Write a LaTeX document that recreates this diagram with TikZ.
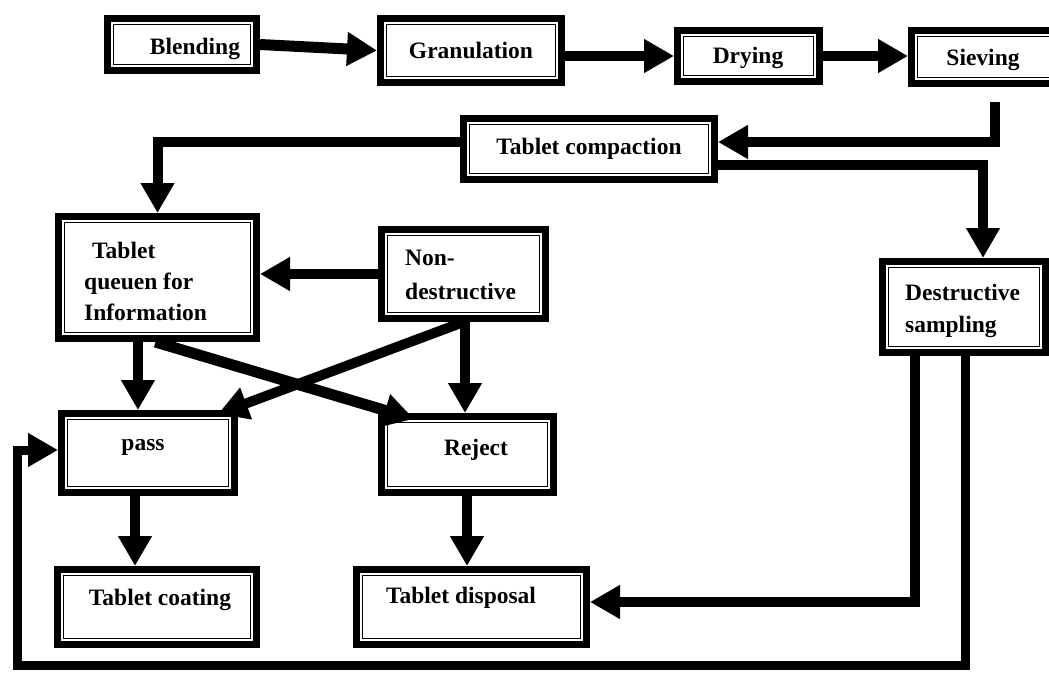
\documentclass[tikz,border=0pt]{standalone}
\usepackage{fontspec}
\setmainfont{Liberation Serif}
\usetikzlibrary{arrows.meta,calc}
\tikzset{
  box/.style={draw, line width=7pt, inner sep=0pt, outer sep=3.5pt, fill=white,
    path picture={\draw[line width=1.4pt]
      ([shift={(6pt,-6pt)}]path picture bounding box.north west) rectangle
      ([shift={(-6pt,6pt)}]path picture bounding box.south east);}},
  txt/.style={font=\bfseries\fontsize{23.5}{31}\selectfont, inner sep=0pt},
  arr/.style={line width=10pt, -{Triangle[length=30pt,width=32pt]}},
}
\begin{document}
\begin{tikzpicture}[x=1pt,y=-1pt]
\useasboundingbox (0,0) rectangle (1049,673);
% boxes
\node[box, minimum width=149pt, minimum height=52pt] (Blend) at (182,44.5) {};
\node[box, minimum width=181pt, minimum height=64pt] (Gran) at (471,50.5) {};
\node[box, minimum width=142pt, minimum height=51pt] (Dry) at (748.5,56) {};
\node[box, minimum width=145pt, minimum height=53pt] (Sieve) at (984,57) {};
\node[box, minimum width=251pt, minimum height=61pt] (Comp) at (589,149) {};
\node[box, minimum width=198pt, minimum height=122pt] (Queue) at (157.5,277.5) {};
\node[box, minimum width=164pt, minimum height=89pt] (Non) at (463.5,274) {};
\node[box, minimum width=163pt, minimum height=91pt] (Dest) at (964,307) {};
\node[box, minimum width=173pt, minimum height=79pt] (pass) at (148,453) {};
\node[box, minimum width=172pt, minimum height=76pt] (Reject) at (467.5,454.5) {};
\node[box, minimum width=199pt, minimum height=75pt] (Coat) at (157,607) {};
\node[box, minimum width=230pt, minimum height=75pt] (Disp) at (471.5,607) {};
% texts
\node[txt] (tBlend) at (195,49) {Blending};
\node[txt] (tGran) at (471,50) {Granulation};
\node[txt] (tDry) at (748,58) {Drying};
\node[txt] (tSieve) at (983,60) {Sieving};
\node[txt] (tComp) at (589,149) {Tablet compaction};
\node[txt, anchor=west, align=left] (tQueue) at (84,281.5) {\hspace{8pt}Tablet\\queuen for\\Information};
\node[txt, anchor=west, align=left, font=\bfseries\fontsize{23.5}{34}\selectfont] (tNon) at (405,275) {Non-\\destructive};
\node[txt, anchor=west, align=left, font=\bfseries\fontsize{23.5}{32}\selectfont] (tDest) at (905,311) {Destructive\\sampling};
\node[txt] (tpass) at (143,447) {pass};
\node[txt] (tReject) at (476,450) {Reject};
\node[txt] (tCoat) at (160,600) {Tablet coating};
\node[txt] (tDisp) at (461,598) {Tablet disposal};
% helper coordinates
\coordinate (s1) at (995,102);
\coordinate (c1) at (0,142);
\coordinate (c2) at (0,165);
\coordinate (d1) at (983,0);
\coordinate (q1) at (138,0);
\coordinate (n1) at (465,0);
\coordinate (p1) at (135,0);
\coordinate (r1) at (467,0);
\coordinate (d2) at (915,0);
\coordinate (d3) at (0,602);
\coordinate (d4) at (965,0);
\coordinate (b1) at (17,665);
\coordinate (p2) at (0,450);
% connectors
\draw[arr, line width=11pt] (Blend.east) -- (Gran.west);
\draw[arr] (Gran.east |- Dry.west) -- (Dry.west);
\draw[arr] (Dry.east) -- (Dry.east -| Sieve.west);
\draw[arr] (s1) |- (Comp.east |- c1);
\draw[arr] (Comp.west |- c1) -| (Queue.north);
\draw[arr] (Comp.east |- c2) -| (d1 |- Dest.north);
\draw[arr] (Non.west) -- (Non.west -| Queue.east);
\draw[arr] (q1 |- Queue.south) -- (q1 |- pass.north);
\draw[arr, line width=11pt] ($(Queue.south)+(-2,0)$) -- ($(Reject.north west)+(36,6)$);
\draw[arr] (Non.south) -- ($(pass.north east)+(-20,4)$);
\draw[arr] (n1 |- Non.south) -- (n1 |- Reject.north);
\draw[arr] (p1 |- pass.south) -- (p1 |- Coat.north);
\draw[arr] (r1 |- Reject.south) -- (r1 |- Disp.north);
\draw[arr] (d2 |- Dest.south) |- (Disp.east |- d3);
\draw[arr, line width=9pt] (d4 |- Dest.south) |- (b1) |- (pass.west |- p2);
\end{tikzpicture}
\end{document}
